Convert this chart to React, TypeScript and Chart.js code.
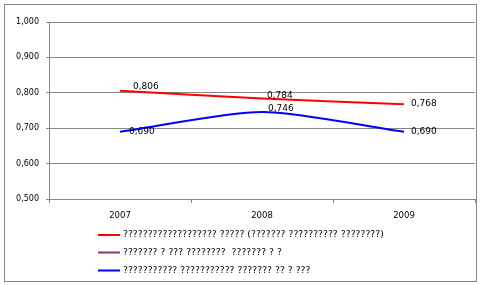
import React, { useEffect, useRef } from "react";
import { Chart, registerables } from "chart.js";

Chart.register(...registerables);

const categories = ["2007", "2008", "2009"];
const seriesNames = [
  "??????????????????? ????? (??????? ?????????? ????????)",
  "??????? ? ??? ????????  ??????? ? ?",
  "??????????? ??????????? ??????? ?? ? ???",
];
const redValues = [0.806, 0.784, 0.768];
const purpleValues: (number | null)[] = [null, null, null];
const blueValues = [0.69, 0.746, 0.69];
const yTicks = [0.5, 0.6, 0.7, 0.8, 0.9, 1.0];

const fmt = (v: number) => v.toFixed(3).replace(".", ",");

const GRID = "#868686";
const FONT = "'DejaVu Sans', Verdana, sans-serif";

const labelOffsets: Record<number, [number, number][]> = {
  0: [
    [13, -4],
    [5, -3],
    [7, 0],
  ],
  2: [
    [9, 0],
    [6, -3.5],
    [7, 0],
  ],
};

const framePlugin = {
  id: "frame",
  beforeDraw(chart: any) {
    const ctx = chart.ctx;
    ctx.save();
    ctx.fillStyle = "#ffffff";
    ctx.fillRect(0, 0, chart.width, chart.height);
    ctx.strokeStyle = GRID;
    ctx.lineWidth = 1;
    ctx.strokeRect(4.5, 4.5, 472, 277);
    ctx.restore();
  },
};

const valueLabelPlugin = {
  id: "valueLabels",
  afterDatasetsDraw(chart: any) {
    const ctx = chart.ctx;
    ctx.save();
    ctx.font = `9px ${FONT}`;
    ctx.fillStyle = "#000000";
    ctx.textAlign = "left";
    ctx.textBaseline = "middle";
    chart.data.datasets.forEach((ds: any, di: number) => {
      const offs = labelOffsets[di];
      if (!offs) return;
      const meta = chart.getDatasetMeta(di);
      meta.data.forEach((pt: any, i: number) => {
        const v = ds.data[i];
        if (v == null) return;
        const [dx, dy] = offs[i];
        ctx.fillText(fmt(v), pt.x + dx, pt.y + dy);
      });
    });
    ctx.restore();
  },
};

const legendPlugin = {
  id: "customLegend",
  afterDraw(chart: any) {
    const ctx = chart.ctx;
    const rows = [235, 252.5, 270.5];
    ctx.save();
    ctx.font = `9.3px ${FONT}`;
    ctx.textAlign = "left";
    ctx.textBaseline = "middle";
    chart.data.datasets.forEach((ds: any, i: number) => {
      const y = rows[i];
      ctx.strokeStyle = ds.borderColor;
      ctx.lineWidth = 2;
      ctx.beginPath();
      ctx.moveTo(98, y);
      ctx.lineTo(120, y);
      ctx.stroke();
      ctx.fillStyle = "#000000";
      ctx.fillText(ds.label, 123, y);
    });
    ctx.restore();
  },
};

export default function App() {
  const ref = useRef<HTMLCanvasElement | null>(null);

  useEffect(() => {
    if (!ref.current) return;
    const chart = new Chart(ref.current, {
      type: "line",
      data: {
        labels: categories,
        datasets: [
          {
            label: seriesNames[0],
            data: redValues,
            borderColor: "#FF0000",
            borderWidth: 2,
            pointRadius: 0,
            tension: 0.25,
            fill: false,
          },
          {
            label: seriesNames[1],
            data: purpleValues,
            borderColor: "#993366",
            borderWidth: 2,
            pointRadius: 0,
            tension: 0.25,
            fill: false,
          },
          {
            label: seriesNames[2],
            data: blueValues,
            borderColor: "#0000FF",
            borderWidth: 2,
            pointRadius: 0,
            tension: 0.25,
            fill: false,
          },
        ],
      },
      options: {
        responsive: false,
        animation: false,
        events: [],
        layout: { padding: { left: 0, top: 22, right: 6, bottom: 0 } },
        plugins: {
          legend: { display: false },
          tooltip: { enabled: false },
          title: { display: false },
        },
        scales: {
          x: {
            type: "category",
            offset: true,
            afterFit(scale: any) {
              scale.height = 86;
            },
            grid: {
              offset: true,
              drawOnChartArea: false,
              drawTicks: true,
              tickLength: 4,
              color: GRID,
            },
            border: { display: true, color: GRID, width: 1 },
            ticks: {
              color: "#000000",
              font: { family: FONT, size: 8.5 },
              padding: 8,
              maxRotation: 0,
            },
          },
          y: {
            min: 0.5,
            max: 1.0,
            afterFit(scale: any) {
              scale.width = 49;
            },
            afterBuildTicks(scale: any) {
              scale.ticks = yTicks.map((v) => ({ value: v }));
            },
            grid: {
              color: GRID,
              lineWidth: 1,
              drawTicks: true,
              tickLength: 3,
            },
            border: { display: true, color: GRID, width: 1 },
            ticks: {
              color: "#000000",
              font: { family: FONT, size: 8 },
              padding: 7,
              callback: (v: any) => fmt(Number(v)),
            },
          },
        },
      },
      plugins: [framePlugin, valueLabelPlugin, legendPlugin],
    });
    return () => chart.destroy();
  }, []);

  return (
    <div style={{ position: "absolute", left: 0, top: 0, width: 481, height: 285 }}>
      <canvas ref={ref} width={481} height={285} style={{ display: "block" }} />
    </div>
  );
}
